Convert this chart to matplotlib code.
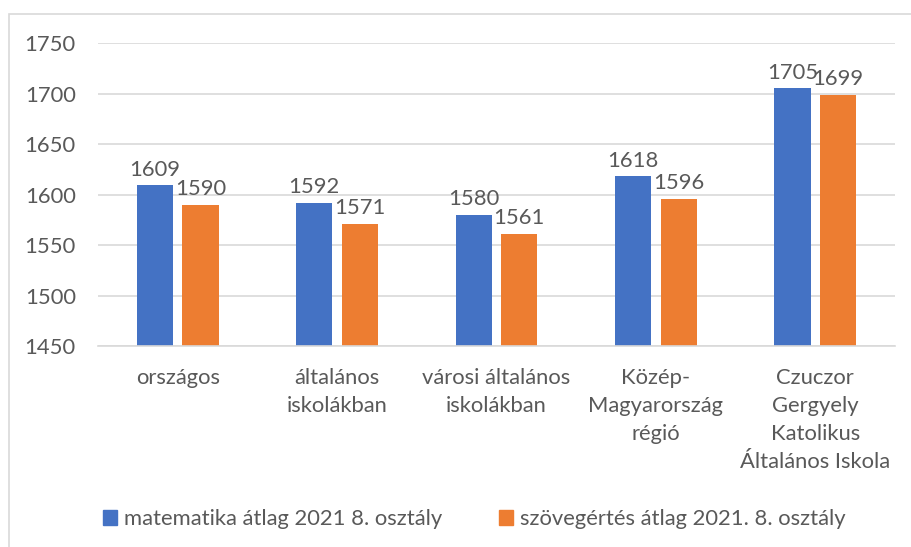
import matplotlib.pyplot as plt
from matplotlib.patches import Rectangle, Patch
import numpy as np

categories = ["országos", "általános\niskolákban", "városi általános\niskolákban",
              "Közép-\nMagyarország\nrégió", "Czuczor\nGergyely\nKatolikus\nÁltalános Iskola"]
matek = [1609, 1592, 1580, 1618, 1705]
szoveg = [1590, 1571, 1561, 1596, 1699]
series_names = ["matematika átlag 2021 8. osztály", "szövegértés átlag 2021. 8. osztály"]
yticks = [1450, 1500, 1550, 1600, 1650, 1700, 1750]

plt.rcParams['font.family'] = ['Lato', 'DejaVu Sans']
txt = '#595959'
grid = '#D9D9D9'
blue = '#4472C4'
orange = '#ED7D31'
fs = 15.8

fig = plt.figure(figsize=(9.12, 5.47), dpi=100)
ax = fig.add_axes([98/912, 1 - 346/547, (895-98)/912, (346-43)/547])

# chart border (cut off at right and bottom like the screenshot)
fig.add_artist(Rectangle((9/912, -0.1), 1.2, 1 - 14/547 + 0.1, transform=fig.transFigure,
                         fill=False, edgecolor=grid, lw=1.2))

x = np.arange(len(categories))
w = 0.226
off = 0.143
b1 = ax.bar(x - off, matek, w, color=blue, zorder=3)
b2 = ax.bar(x + off, szoveg, w, color=orange, zorder=3)

for bars, vals in ((b1, matek), (b2, szoveg)):
    for r, v in zip(bars, vals):
        ax.annotate(str(v), (r.get_x() + r.get_width()/2, v), xytext=(0, 4),
                    textcoords='offset points', ha='center', va='bottom',
                    fontsize=fs, color=txt)

ax.set_ylim(1450, 1750)
ax.set_xlim(-0.5, len(categories) - 0.5)
ax.set_yticks(yticks)
ax.set_xticks(x)
ax.set_xticklabels(categories, linespacing=1.5)
ax.tick_params(axis='both', length=0, labelsize=fs, labelcolor=txt)
ax.tick_params(axis='x', pad=16)
ax.tick_params(axis='y', pad=16)
ax.yaxis.grid(True, color=grid, lw=1.2, zorder=0)
for s in ('top', 'right', 'left'):
    ax.spines[s].set_visible(False)
ax.spines['bottom'].set_color(grid)
ax.spines['bottom'].set_linewidth(1.2)
ax.spines['bottom'].set_zorder(4)

handles = [Patch(color=blue), Patch(color=orange)]
fig.legend(handles, series_names, loc='center', bbox_to_anchor=(474/912, 1 - 519/547),
           ncol=2, frameon=False, fontsize=fs, labelcolor=txt, handlelength=0.65,
           handleheight=0.65, handletextpad=0.3, columnspacing=2.6)

fig.savefig('out.png', dpi=100)
